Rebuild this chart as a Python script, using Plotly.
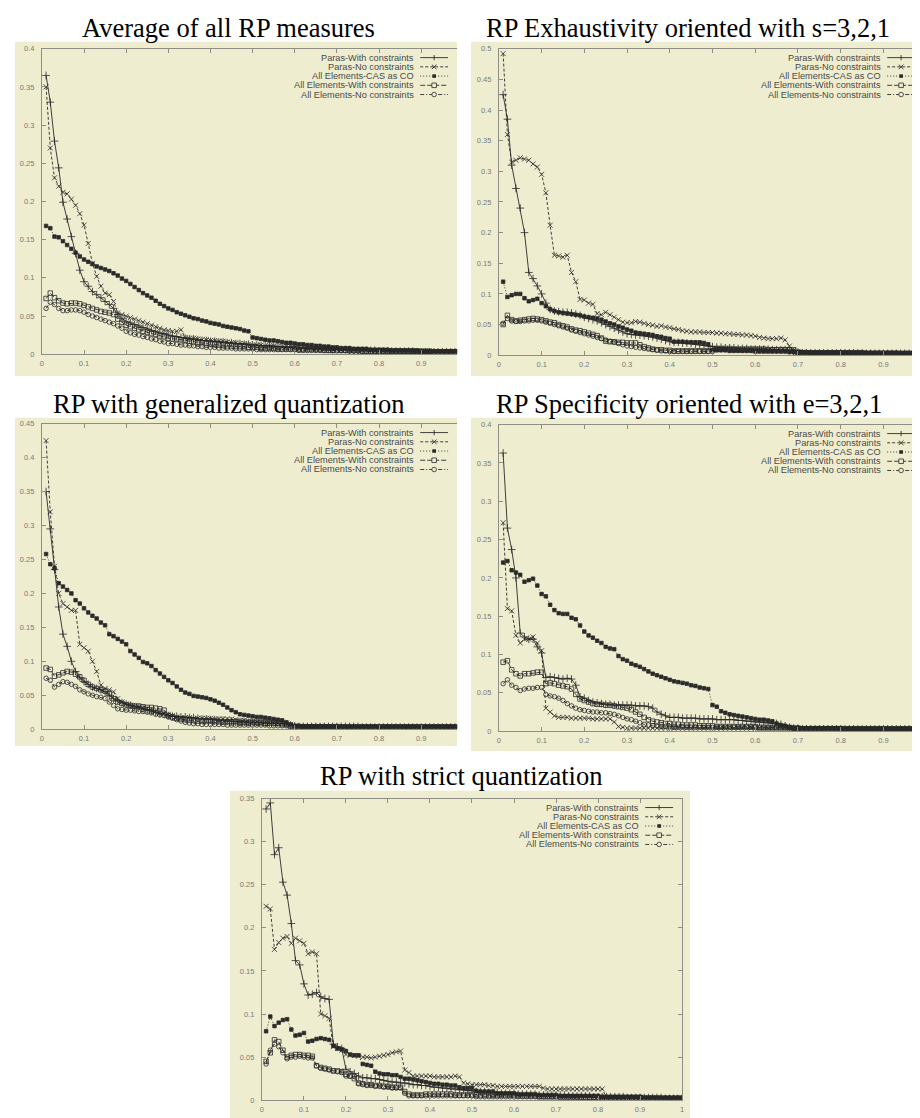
import plotly.graph_objects as go

# ---------------- data ----------------
RECALL = [round(0.01 * i, 2) for i in range(1, 101)]

SERIES_NAMES = [
    "Paras-With constraints",
    "Paras-No constraints",
    "All Elements-CAS as CO",
    "All Elements-With constraints",
    "All Elements-No constraints",
]

PANEL_TITLES = [
    "Average of all RP measures",
    "RP Exhaustivity oriented with s=3,2,1",
    "RP with generalized quantization",
    "RP Specificity oriented with e=3,2,1",
    "RP with strict quantization",
]

Y_MAX = [0.4, 0.5, 0.45, 0.4, 0.35]
X_TICKS = [0, 0.1, 0.2, 0.3, 0.4, 0.5, 0.6, 0.7, 0.8, 0.9, 1.0]

# Panel 1: Average of all RP measures
AVG_PARAS_WITH = [
    0.365, 0.330, 0.279, 0.244, 0.199, 0.177, 0.154, 0.132, 0.110, 0.095,
    0.089, 0.082, 0.078, 0.074, 0.069, 0.065, 0.060, 0.052, 0.047, 0.043,
    0.041, 0.039, 0.037, 0.035, 0.033, 0.031, 0.030, 0.028, 0.027, 0.025,
    0.024, 0.023, 0.022, 0.021, 0.020, 0.020, 0.019, 0.018, 0.018, 0.017,
    0.017, 0.016, 0.016, 0.015, 0.015, 0.014, 0.014, 0.013, 0.013, 0.012,
    0.012, 0.011, 0.011, 0.011, 0.010, 0.010, 0.010, 0.009, 0.009, 0.009,
    0.008, 0.008, 0.008, 0.008, 0.007, 0.007, 0.007, 0.007, 0.006, 0.006,
    0.006, 0.006, 0.006, 0.005, 0.005, 0.005, 0.005, 0.005, 0.005, 0.004,
    0.004, 0.004, 0.004, 0.004, 0.004, 0.004, 0.004, 0.004, 0.003, 0.003,
    0.003, 0.003, 0.003, 0.003, 0.003, 0.003, 0.003, 0.003, 0.003, 0.003,
]
AVG_PARAS_NO = [
    0.350, 0.270, 0.231, 0.220, 0.212, 0.210, 0.203, 0.195, 0.184, 0.169,
    0.145, 0.119, 0.102, 0.089, 0.080, 0.078, 0.069, 0.054, 0.052, 0.050,
    0.048, 0.046, 0.044, 0.042, 0.040, 0.038, 0.036, 0.034, 0.032, 0.031,
    0.030, 0.030, 0.032, 0.022, 0.021, 0.021, 0.020, 0.019, 0.019, 0.018,
    0.018, 0.017, 0.017, 0.016, 0.015, 0.015, 0.014, 0.014, 0.013, 0.012,
    0.012, 0.012, 0.011, 0.011, 0.011, 0.010, 0.010, 0.010, 0.010, 0.009,
    0.009, 0.009, 0.008, 0.008, 0.008, 0.007, 0.007, 0.007, 0.006, 0.006,
    0.006, 0.006, 0.005, 0.005, 0.005, 0.005, 0.005, 0.005, 0.004, 0.004,
    0.004, 0.004, 0.004, 0.004, 0.004, 0.004, 0.004, 0.003, 0.003, 0.003,
    0.003, 0.003, 0.003, 0.003, 0.003, 0.003, 0.003, 0.003, 0.003, 0.003,
]
AVG_CAS = [
    0.168, 0.165, 0.154, 0.153, 0.148, 0.143, 0.138, 0.133, 0.128, 0.124,
    0.121, 0.118, 0.115, 0.113, 0.111, 0.109, 0.106, 0.103, 0.099, 0.096,
    0.092, 0.088, 0.084, 0.080, 0.077, 0.074, 0.070, 0.066, 0.063, 0.060,
    0.058, 0.055, 0.053, 0.051, 0.049, 0.047, 0.046, 0.044, 0.043, 0.041,
    0.040, 0.039, 0.037, 0.036, 0.035, 0.034, 0.033, 0.031, 0.030, 0.022,
    0.021, 0.020, 0.019, 0.018, 0.018, 0.017, 0.016, 0.015, 0.015, 0.014,
    0.013, 0.013, 0.012, 0.012, 0.011, 0.011, 0.010, 0.010, 0.009, 0.009,
    0.008, 0.008, 0.008, 0.007, 0.007, 0.007, 0.007, 0.006, 0.006, 0.006,
    0.006, 0.006, 0.005, 0.005, 0.005, 0.005, 0.005, 0.005, 0.005, 0.004,
    0.004, 0.004, 0.004, 0.004, 0.004, 0.004, 0.004, 0.004, 0.004, 0.004,
]
AVG_AE_WITH = [
    0.073, 0.080, 0.074, 0.070, 0.067, 0.066, 0.067, 0.067, 0.066, 0.064,
    0.062, 0.060, 0.058, 0.056, 0.055, 0.054, 0.052, 0.046, 0.042, 0.038,
    0.036, 0.034, 0.032, 0.030, 0.029, 0.027, 0.026, 0.024, 0.023, 0.021,
    0.020, 0.020, 0.019, 0.018, 0.017, 0.016, 0.015, 0.015, 0.014, 0.013,
    0.013, 0.012, 0.012, 0.011, 0.011, 0.010, 0.010, 0.010, 0.009, 0.009,
    0.009, 0.008, 0.008, 0.008, 0.008, 0.007, 0.007, 0.007, 0.007, 0.007,
    0.006, 0.006, 0.006, 0.006, 0.006, 0.006, 0.005, 0.005, 0.005, 0.005,
    0.005, 0.005, 0.005, 0.005, 0.005, 0.004, 0.004, 0.004, 0.004, 0.004,
    0.004, 0.004, 0.004, 0.004, 0.004, 0.004, 0.004, 0.004, 0.004, 0.004,
    0.004, 0.004, 0.003, 0.003, 0.003, 0.003, 0.003, 0.003, 0.003, 0.003,
]
AVG_AE_NO = [
    0.060, 0.068, 0.065, 0.060, 0.057, 0.057, 0.058, 0.058, 0.057, 0.055,
    0.052, 0.050, 0.048, 0.046, 0.044, 0.042, 0.040, 0.037, 0.034, 0.030,
    0.028, 0.026, 0.025, 0.023, 0.022, 0.020, 0.019, 0.017, 0.016, 0.014,
    0.014, 0.013, 0.012, 0.012, 0.011, 0.011, 0.010, 0.010, 0.009, 0.009,
    0.009, 0.008, 0.008, 0.008, 0.008, 0.007, 0.007, 0.007, 0.007, 0.007,
    0.006, 0.006, 0.006, 0.006, 0.006, 0.006, 0.006, 0.006, 0.006, 0.006,
    0.005, 0.005, 0.005, 0.005, 0.005, 0.005, 0.005, 0.005, 0.005, 0.005,
    0.005, 0.005, 0.004, 0.004, 0.004, 0.004, 0.004, 0.004, 0.004, 0.004,
    0.004, 0.004, 0.004, 0.004, 0.004, 0.003, 0.003, 0.003, 0.003, 0.003,
    0.003, 0.003, 0.003, 0.003, 0.003, 0.003, 0.003, 0.003, 0.003, 0.003,
]

# Panel 2: Exhaustivity oriented
EXH_PARAS_WITH = [
    0.425, 0.385, 0.310, 0.272, 0.240, 0.200, 0.135, 0.125, 0.113, 0.100,
    0.085, 0.075, 0.072, 0.071, 0.070, 0.070, 0.069, 0.067, 0.065, 0.062,
    0.060, 0.058, 0.056, 0.053, 0.050, 0.047, 0.044, 0.041, 0.038, 0.035,
    0.034, 0.033, 0.033, 0.032, 0.031, 0.030, 0.028, 0.026, 0.024, 0.022,
    0.021, 0.021, 0.020, 0.020, 0.019, 0.018, 0.017, 0.016, 0.015, 0.014,
    0.013, 0.013, 0.012, 0.012, 0.012, 0.011, 0.011, 0.011, 0.010, 0.010,
    0.010, 0.010, 0.010, 0.009, 0.009, 0.009, 0.009, 0.008, 0.006, 0.005,
    0.004, 0.004, 0.004, 0.004, 0.004, 0.004, 0.004, 0.004, 0.004, 0.004,
    0.004, 0.004, 0.004, 0.004, 0.004, 0.003, 0.003, 0.003, 0.003, 0.003,
    0.003, 0.003, 0.003, 0.003, 0.003, 0.003, 0.003, 0.003, 0.003, 0.003,
]
EXH_PARAS_NO = [
    0.492, 0.360, 0.315, 0.318, 0.322, 0.320, 0.318, 0.312, 0.307, 0.295,
    0.265, 0.212, 0.163, 0.162, 0.160, 0.163, 0.135, 0.120, 0.091, 0.090,
    0.085, 0.083, 0.068, 0.066, 0.070, 0.066, 0.062, 0.058, 0.054, 0.053,
    0.053, 0.055, 0.054, 0.052, 0.050, 0.049, 0.047, 0.048, 0.046, 0.045,
    0.043, 0.042, 0.040, 0.039, 0.038, 0.038, 0.038, 0.037, 0.037, 0.037,
    0.036, 0.036, 0.035, 0.035, 0.034, 0.034, 0.033, 0.033, 0.032, 0.031,
    0.029, 0.028, 0.027, 0.027, 0.027, 0.028, 0.025, 0.015, 0.008, 0.005,
    0.005, 0.004, 0.004, 0.004, 0.004, 0.004, 0.004, 0.004, 0.004, 0.004,
    0.004, 0.004, 0.004, 0.004, 0.003, 0.003, 0.003, 0.003, 0.003, 0.003,
    0.003, 0.003, 0.003, 0.003, 0.003, 0.003, 0.003, 0.003, 0.003, 0.003,
]
EXH_CAS = [
    0.120, 0.095, 0.098, 0.100, 0.100, 0.093, 0.088, 0.090, 0.092, 0.085,
    0.080, 0.075, 0.072, 0.070, 0.069, 0.068, 0.067, 0.066, 0.065, 0.063,
    0.062, 0.061, 0.060, 0.058, 0.055, 0.052, 0.050, 0.047, 0.045, 0.042,
    0.040, 0.037, 0.036, 0.035, 0.034, 0.033, 0.031, 0.030, 0.028, 0.027,
    0.022, 0.022, 0.022, 0.021, 0.021, 0.021, 0.021, 0.020, 0.018, 0.008,
    0.008, 0.008, 0.008, 0.007, 0.007, 0.007, 0.007, 0.007, 0.007, 0.006,
    0.006, 0.006, 0.006, 0.006, 0.006, 0.006, 0.006, 0.005, 0.005, 0.005,
    0.005, 0.005, 0.004, 0.004, 0.004, 0.004, 0.004, 0.004, 0.004, 0.004,
    0.004, 0.004, 0.004, 0.004, 0.004, 0.004, 0.004, 0.004, 0.004, 0.004,
    0.004, 0.004, 0.004, 0.003, 0.003, 0.003, 0.003, 0.003, 0.003, 0.003,
]
EXH_AE_WITH = [
    0.050, 0.065, 0.058, 0.056, 0.057, 0.058, 0.059, 0.060, 0.059, 0.058,
    0.056, 0.054, 0.053, 0.050, 0.048, 0.046, 0.043, 0.041, 0.040, 0.038,
    0.036, 0.034, 0.032, 0.028, 0.023, 0.022, 0.022, 0.021, 0.021, 0.020,
    0.020, 0.020, 0.017, 0.014, 0.012, 0.010, 0.009, 0.009, 0.008, 0.008,
    0.007, 0.007, 0.007, 0.007, 0.007, 0.007, 0.007, 0.007, 0.007, 0.011,
    0.011, 0.011, 0.011, 0.011, 0.010, 0.010, 0.010, 0.010, 0.010, 0.010,
    0.010, 0.010, 0.009, 0.009, 0.009, 0.009, 0.009, 0.009, 0.009, 0.005,
    0.004, 0.004, 0.004, 0.004, 0.004, 0.004, 0.004, 0.004, 0.004, 0.004,
    0.004, 0.004, 0.004, 0.004, 0.004, 0.003, 0.003, 0.003, 0.003, 0.003,
    0.003, 0.003, 0.003, 0.003, 0.003, 0.003, 0.003, 0.003, 0.003, 0.003,
]
EXH_AE_NO = [
    0.052, 0.060, 0.056, 0.055, 0.055, 0.056, 0.056, 0.057, 0.057, 0.056,
    0.054, 0.052, 0.050, 0.048, 0.046, 0.044, 0.041, 0.039, 0.037, 0.035,
    0.033, 0.031, 0.029, 0.027, 0.025, 0.023, 0.021, 0.019, 0.017, 0.015,
    0.014, 0.013, 0.012, 0.011, 0.010, 0.009, 0.008, 0.007, 0.007, 0.006,
    0.006, 0.006, 0.006, 0.006, 0.006, 0.006, 0.006, 0.006, 0.006, 0.006,
    0.009, 0.009, 0.009, 0.009, 0.009, 0.009, 0.009, 0.009, 0.009, 0.009,
    0.009, 0.009, 0.009, 0.009, 0.009, 0.009, 0.009, 0.009, 0.006, 0.004,
    0.004, 0.004, 0.004, 0.004, 0.004, 0.004, 0.004, 0.004, 0.004, 0.004,
    0.003, 0.003, 0.003, 0.003, 0.003, 0.003, 0.003, 0.003, 0.003, 0.003,
    0.003, 0.003, 0.003, 0.003, 0.003, 0.003, 0.003, 0.003, 0.003, 0.003,
]

# Panel 3: generalized quantization
GEN_PARAS_WITH = [
    0.350, 0.295, 0.235, 0.180, 0.140, 0.122, 0.100, 0.085, 0.076, 0.070,
    0.066, 0.062, 0.060, 0.058, 0.055, 0.050, 0.045, 0.042, 0.039, 0.037,
    0.035, 0.033, 0.032, 0.030, 0.028, 0.027, 0.025, 0.023, 0.022, 0.020,
    0.019, 0.019, 0.018, 0.018, 0.017, 0.017, 0.016, 0.015, 0.015, 0.014,
    0.014, 0.013, 0.013, 0.012, 0.012, 0.011, 0.011, 0.011, 0.010, 0.010,
    0.010, 0.010, 0.009, 0.009, 0.009, 0.009, 0.008, 0.008, 0.006, 0.005,
    0.004, 0.004, 0.004, 0.004, 0.004, 0.004, 0.004, 0.004, 0.004, 0.004,
    0.004, 0.004, 0.004, 0.004, 0.004, 0.003, 0.003, 0.003, 0.003, 0.003,
    0.003, 0.003, 0.003, 0.003, 0.003, 0.003, 0.003, 0.003, 0.003, 0.003,
    0.003, 0.003, 0.003, 0.003, 0.003, 0.003, 0.003, 0.003, 0.003, 0.003,
]
GEN_PARAS_NO = [
    0.425, 0.320, 0.240, 0.200, 0.185, 0.180, 0.175, 0.175, 0.125, 0.120,
    0.115, 0.100, 0.085, 0.065, 0.060, 0.058, 0.055, 0.045, 0.040, 0.037,
    0.035, 0.034, 0.033, 0.031, 0.030, 0.028, 0.026, 0.025, 0.023, 0.022,
    0.020, 0.018, 0.017, 0.017, 0.017, 0.016, 0.016, 0.016, 0.016, 0.016,
    0.015, 0.015, 0.015, 0.015, 0.015, 0.014, 0.013, 0.013, 0.012, 0.012,
    0.011, 0.011, 0.011, 0.010, 0.010, 0.010, 0.010, 0.009, 0.007, 0.005,
    0.004, 0.004, 0.004, 0.004, 0.004, 0.004, 0.004, 0.004, 0.004, 0.004,
    0.003, 0.003, 0.003, 0.003, 0.003, 0.003, 0.003, 0.003, 0.003, 0.003,
    0.003, 0.003, 0.003, 0.003, 0.003, 0.003, 0.003, 0.003, 0.003, 0.003,
    0.003, 0.003, 0.003, 0.003, 0.003, 0.003, 0.003, 0.003, 0.003, 0.003,
]
GEN_CAS = [
    0.258, 0.243, 0.237, 0.215, 0.210, 0.205, 0.200, 0.190, 0.185, 0.178,
    0.172, 0.167, 0.163, 0.157, 0.153, 0.140, 0.137, 0.133, 0.129, 0.125,
    0.115, 0.110, 0.105, 0.099, 0.097, 0.093, 0.087, 0.082, 0.077, 0.072,
    0.068, 0.063, 0.058, 0.054, 0.052, 0.049, 0.048, 0.047, 0.046, 0.044,
    0.042, 0.039, 0.036, 0.032, 0.028, 0.025, 0.022, 0.021, 0.020, 0.019,
    0.018, 0.018, 0.017, 0.016, 0.015, 0.014, 0.013, 0.010, 0.007, 0.005,
    0.005, 0.004, 0.004, 0.004, 0.004, 0.004, 0.004, 0.004, 0.004, 0.004,
    0.004, 0.004, 0.004, 0.004, 0.004, 0.004, 0.004, 0.004, 0.004, 0.004,
    0.004, 0.004, 0.004, 0.004, 0.004, 0.004, 0.004, 0.004, 0.004, 0.004,
    0.004, 0.004, 0.004, 0.004, 0.004, 0.004, 0.004, 0.004, 0.004, 0.004,
]
GEN_AE_WITH = [
    0.090, 0.088, 0.078, 0.080, 0.083, 0.085, 0.084, 0.081, 0.077, 0.072,
    0.066, 0.062, 0.060, 0.058, 0.056, 0.052, 0.045, 0.040, 0.038, 0.036,
    0.035, 0.034, 0.034, 0.033, 0.032, 0.032, 0.031, 0.030, 0.028, 0.020,
    0.018, 0.016, 0.015, 0.014, 0.013, 0.013, 0.012, 0.012, 0.012, 0.012,
    0.012, 0.011, 0.011, 0.011, 0.011, 0.011, 0.010, 0.010, 0.010, 0.010,
    0.010, 0.010, 0.009, 0.009, 0.009, 0.009, 0.008, 0.007, 0.004, 0.003,
    0.003, 0.003, 0.003, 0.003, 0.003, 0.003, 0.003, 0.003, 0.003, 0.003,
    0.003, 0.003, 0.003, 0.003, 0.003, 0.003, 0.003, 0.003, 0.003, 0.003,
    0.003, 0.003, 0.003, 0.003, 0.003, 0.003, 0.003, 0.003, 0.003, 0.003,
    0.003, 0.003, 0.003, 0.003, 0.003, 0.003, 0.003, 0.003, 0.003, 0.003,
]
GEN_AE_NO = [
    0.075, 0.072, 0.062, 0.066, 0.070, 0.069, 0.066, 0.063, 0.058, 0.055,
    0.052, 0.050, 0.048, 0.047, 0.045, 0.040, 0.035, 0.030, 0.029, 0.028,
    0.028, 0.027, 0.026, 0.026, 0.025, 0.024, 0.022, 0.021, 0.020, 0.018,
    0.016, 0.014, 0.012, 0.010, 0.009, 0.008, 0.008, 0.007, 0.007, 0.007,
    0.007, 0.007, 0.007, 0.006, 0.006, 0.006, 0.006, 0.006, 0.006, 0.006,
    0.006, 0.006, 0.006, 0.005, 0.005, 0.005, 0.005, 0.005, 0.005, 0.004,
    0.004, 0.004, 0.004, 0.004, 0.004, 0.004, 0.004, 0.004, 0.004, 0.004,
    0.003, 0.003, 0.003, 0.003, 0.003, 0.003, 0.003, 0.003, 0.003, 0.003,
    0.003, 0.003, 0.003, 0.003, 0.003, 0.003, 0.003, 0.003, 0.003, 0.003,
    0.003, 0.003, 0.003, 0.003, 0.003, 0.003, 0.003, 0.003, 0.003, 0.003,
]

# Panel 4: Specificity oriented
SPE_PARAS_WITH = [
    0.363, 0.265, 0.237, 0.200, 0.128, 0.123, 0.120, 0.120, 0.110, 0.102,
    0.070, 0.071, 0.070, 0.069, 0.068, 0.069, 0.068, 0.060, 0.045, 0.043,
    0.040, 0.038, 0.037, 0.036, 0.035, 0.035, 0.034, 0.034, 0.034, 0.034,
    0.034, 0.033, 0.033, 0.033, 0.032, 0.030, 0.025, 0.022, 0.020, 0.018,
    0.018, 0.018, 0.017, 0.017, 0.017, 0.017, 0.016, 0.016, 0.016, 0.016,
    0.015, 0.015, 0.015, 0.015, 0.015, 0.014, 0.014, 0.013, 0.013, 0.012,
    0.012, 0.011, 0.011, 0.010, 0.010, 0.009, 0.007, 0.005, 0.004, 0.004,
    0.003, 0.003, 0.003, 0.003, 0.003, 0.003, 0.003, 0.003, 0.003, 0.003,
    0.003, 0.003, 0.003, 0.003, 0.003, 0.003, 0.003, 0.003, 0.003, 0.003,
    0.003, 0.003, 0.003, 0.003, 0.003, 0.003, 0.003, 0.003, 0.003, 0.003,
]
SPE_PARAS_NO = [
    0.272, 0.160, 0.157, 0.125, 0.115, 0.120, 0.120, 0.123, 0.115, 0.105,
    0.030, 0.025, 0.020, 0.018, 0.018, 0.018, 0.017, 0.017, 0.017, 0.017,
    0.017, 0.016, 0.016, 0.016, 0.016, 0.016, 0.012, 0.006, 0.005, 0.004,
    0.004, 0.004, 0.004, 0.004, 0.004, 0.004, 0.004, 0.004, 0.004, 0.004,
    0.004, 0.004, 0.004, 0.004, 0.004, 0.004, 0.004, 0.004, 0.004, 0.004,
    0.004, 0.004, 0.004, 0.004, 0.004, 0.004, 0.004, 0.004, 0.004, 0.004,
    0.004, 0.004, 0.004, 0.004, 0.004, 0.004, 0.004, 0.004, 0.003, 0.003,
    0.003, 0.003, 0.003, 0.003, 0.003, 0.003, 0.003, 0.003, 0.003, 0.003,
    0.003, 0.003, 0.003, 0.003, 0.003, 0.003, 0.003, 0.003, 0.003, 0.003,
    0.003, 0.003, 0.003, 0.003, 0.003, 0.003, 0.003, 0.003, 0.003, 0.003,
]
SPE_CAS = [
    0.220, 0.222, 0.210, 0.207, 0.204, 0.195, 0.197, 0.199, 0.190, 0.179,
    0.176, 0.165, 0.158, 0.154, 0.153, 0.153, 0.148, 0.146, 0.138, 0.130,
    0.125, 0.122, 0.118, 0.115, 0.110, 0.108, 0.107, 0.098, 0.094, 0.092,
    0.088, 0.086, 0.084, 0.081, 0.078, 0.075, 0.073, 0.071, 0.069, 0.067,
    0.065, 0.064, 0.063, 0.062, 0.060, 0.059, 0.057, 0.056, 0.055, 0.034,
    0.032, 0.026, 0.024, 0.022, 0.021, 0.020, 0.019, 0.018, 0.017, 0.016,
    0.015, 0.015, 0.014, 0.013, 0.010, 0.008, 0.007, 0.005, 0.004, 0.004,
    0.004, 0.004, 0.004, 0.004, 0.004, 0.004, 0.004, 0.004, 0.004, 0.004,
    0.003, 0.003, 0.003, 0.003, 0.003, 0.003, 0.003, 0.003, 0.003, 0.003,
    0.003, 0.003, 0.003, 0.003, 0.003, 0.003, 0.003, 0.003, 0.003, 0.003,
]
SPE_AE_WITH = [
    0.090, 0.092, 0.080, 0.075, 0.072, 0.075, 0.075, 0.076, 0.077, 0.077,
    0.062, 0.063, 0.062, 0.060, 0.059, 0.058, 0.055, 0.048, 0.042, 0.040,
    0.038, 0.036, 0.035, 0.035, 0.034, 0.034, 0.033, 0.032, 0.031, 0.030,
    0.028, 0.025, 0.022, 0.018, 0.015, 0.013, 0.012, 0.011, 0.010, 0.010,
    0.009, 0.009, 0.008, 0.008, 0.008, 0.008, 0.007, 0.007, 0.007, 0.007,
    0.006, 0.006, 0.006, 0.006, 0.006, 0.006, 0.006, 0.006, 0.006, 0.006,
    0.005, 0.005, 0.005, 0.005, 0.005, 0.005, 0.005, 0.005, 0.004, 0.004,
    0.003, 0.003, 0.003, 0.003, 0.003, 0.003, 0.003, 0.003, 0.003, 0.003,
    0.003, 0.003, 0.003, 0.003, 0.003, 0.003, 0.003, 0.003, 0.003, 0.003,
    0.003, 0.003, 0.003, 0.003, 0.003, 0.003, 0.003, 0.003, 0.003, 0.003,
]
SPE_AE_NO = [
    0.062, 0.067, 0.060, 0.057, 0.053, 0.055, 0.056, 0.056, 0.057, 0.057,
    0.048, 0.046, 0.045, 0.043, 0.040, 0.036, 0.033, 0.030, 0.028, 0.027,
    0.026, 0.025, 0.025, 0.024, 0.024, 0.023, 0.022, 0.020, 0.018, 0.016,
    0.015, 0.013, 0.011, 0.009, 0.008, 0.007, 0.007, 0.006, 0.006, 0.006,
    0.005, 0.005, 0.005, 0.005, 0.005, 0.005, 0.005, 0.005, 0.005, 0.005,
    0.005, 0.005, 0.005, 0.005, 0.005, 0.005, 0.005, 0.005, 0.005, 0.005,
    0.004, 0.004, 0.004, 0.004, 0.004, 0.004, 0.004, 0.004, 0.004, 0.004,
    0.003, 0.003, 0.003, 0.003, 0.003, 0.003, 0.003, 0.003, 0.003, 0.003,
    0.003, 0.003, 0.003, 0.003, 0.003, 0.003, 0.003, 0.003, 0.003, 0.003,
    0.003, 0.003, 0.003, 0.003, 0.003, 0.003, 0.003, 0.003, 0.003, 0.003,
]

# Panel 5: strict quantization
STR_PARAS_WITH = [
    0.338, 0.345, 0.285, 0.293, 0.253, 0.238, 0.205, 0.162, 0.157, 0.135,
    0.122, 0.123, 0.125, 0.120, 0.118, 0.117, 0.065, 0.062, 0.060, 0.036,
    0.033, 0.031, 0.028, 0.026, 0.026, 0.025, 0.025, 0.024, 0.023, 0.022,
    0.021, 0.021, 0.020, 0.020, 0.019, 0.018, 0.018, 0.017, 0.017, 0.016,
    0.015, 0.015, 0.014, 0.014, 0.013, 0.013, 0.012, 0.012, 0.011, 0.011,
    0.010, 0.010, 0.010, 0.009, 0.009, 0.009, 0.008, 0.008, 0.008, 0.008,
    0.007, 0.007, 0.007, 0.007, 0.007, 0.006, 0.006, 0.006, 0.006, 0.006,
    0.006, 0.006, 0.005, 0.005, 0.005, 0.005, 0.005, 0.005, 0.004, 0.004,
    0.004, 0.004, 0.004, 0.004, 0.004, 0.004, 0.003, 0.003, 0.003, 0.003,
    0.003, 0.003, 0.003, 0.003, 0.003, 0.002, 0.002, 0.002, 0.002, 0.002,
]
STR_PARAS_NO = [
    0.225, 0.222, 0.175, 0.183, 0.188, 0.190, 0.182, 0.188, 0.185, 0.182,
    0.170, 0.172, 0.170, 0.100, 0.098, 0.095, 0.062, 0.060, 0.058, 0.053,
    0.052, 0.052, 0.051, 0.050, 0.050, 0.049, 0.050, 0.051, 0.052, 0.053,
    0.055, 0.056, 0.057, 0.035, 0.032, 0.028, 0.028, 0.028, 0.028, 0.028,
    0.027, 0.027, 0.027, 0.027, 0.027, 0.028, 0.027, 0.020, 0.019, 0.018,
    0.018, 0.018, 0.018, 0.017, 0.017, 0.016, 0.016, 0.016, 0.016, 0.016,
    0.016, 0.016, 0.016, 0.016, 0.016, 0.016, 0.014, 0.013, 0.013, 0.013,
    0.013, 0.013, 0.013, 0.013, 0.013, 0.013, 0.013, 0.013, 0.013, 0.013,
    0.013, 0.003, 0.003, 0.003, 0.003, 0.003, 0.003, 0.003, 0.003, 0.003,
    0.003, 0.003, 0.003, 0.003, 0.002, 0.002, 0.002, 0.002, 0.002, 0.002,
]
STR_CAS = [
    0.080, 0.097, 0.086, 0.090, 0.093, 0.094, 0.082, 0.075, 0.076, 0.078,
    0.068, 0.069, 0.071, 0.072, 0.071, 0.070, 0.063, 0.060, 0.059, 0.057,
    0.053, 0.052, 0.052, 0.042, 0.041, 0.040, 0.033, 0.031, 0.030, 0.030,
    0.029, 0.029, 0.027, 0.025, 0.025, 0.024, 0.023, 0.022, 0.021, 0.020,
    0.019, 0.019, 0.018, 0.018, 0.017, 0.017, 0.015, 0.014, 0.014, 0.014,
    0.011, 0.010, 0.010, 0.010, 0.010, 0.008, 0.008, 0.008, 0.008, 0.008,
    0.007, 0.007, 0.007, 0.007, 0.007, 0.006, 0.006, 0.006, 0.006, 0.006,
    0.005, 0.005, 0.005, 0.005, 0.005, 0.005, 0.005, 0.005, 0.005, 0.005,
    0.004, 0.004, 0.004, 0.004, 0.004, 0.004, 0.004, 0.004, 0.004, 0.004,
    0.003, 0.003, 0.003, 0.003, 0.003, 0.003, 0.003, 0.003, 0.003, 0.003,
]
STR_AE_WITH = [
    0.045, 0.055, 0.070, 0.068, 0.058, 0.050, 0.052, 0.053, 0.053, 0.052,
    0.052, 0.051, 0.040, 0.038, 0.037, 0.036, 0.034, 0.034, 0.033, 0.030,
    0.028, 0.025, 0.020, 0.019, 0.018, 0.018, 0.017, 0.017, 0.016, 0.016,
    0.015, 0.015, 0.015, 0.010, 0.007, 0.006, 0.006, 0.006, 0.007, 0.007,
    0.007, 0.007, 0.007, 0.007, 0.007, 0.006, 0.006, 0.006, 0.006, 0.006,
    0.006, 0.006, 0.006, 0.006, 0.006, 0.006, 0.006, 0.006, 0.006, 0.006,
    0.005, 0.005, 0.005, 0.005, 0.005, 0.004, 0.004, 0.004, 0.004, 0.004,
    0.004, 0.004, 0.004, 0.004, 0.004, 0.003, 0.003, 0.003, 0.003, 0.003,
    0.003, 0.003, 0.003, 0.003, 0.003, 0.003, 0.003, 0.003, 0.003, 0.003,
    0.002, 0.002, 0.002, 0.002, 0.002, 0.002, 0.002, 0.002, 0.002, 0.002,
]
STR_AE_NO = [
    0.042, 0.058, 0.065, 0.062, 0.055, 0.048, 0.050, 0.050, 0.051, 0.050,
    0.049, 0.049, 0.040, 0.037, 0.036, 0.035, 0.034, 0.033, 0.032, 0.028,
    0.028, 0.028, 0.019, 0.018, 0.017, 0.017, 0.016, 0.016, 0.015, 0.015,
    0.014, 0.014, 0.014, 0.008, 0.005, 0.005, 0.005, 0.005, 0.005, 0.005,
    0.005, 0.005, 0.005, 0.005, 0.005, 0.005, 0.005, 0.005, 0.005, 0.005,
    0.004, 0.004, 0.004, 0.004, 0.004, 0.004, 0.004, 0.004, 0.004, 0.004,
    0.004, 0.004, 0.004, 0.004, 0.004, 0.004, 0.004, 0.004, 0.004, 0.004,
    0.003, 0.003, 0.003, 0.003, 0.003, 0.003, 0.003, 0.003, 0.003, 0.003,
    0.002, 0.002, 0.002, 0.002, 0.002, 0.002, 0.002, 0.002, 0.002, 0.002,
    0.002, 0.002, 0.002, 0.002, 0.002, 0.002, 0.002, 0.002, 0.002, 0.002,
]

PANEL_SERIES = [
    [AVG_PARAS_WITH, AVG_PARAS_NO, AVG_CAS, AVG_AE_WITH, AVG_AE_NO],
    [EXH_PARAS_WITH, EXH_PARAS_NO, EXH_CAS, EXH_AE_WITH, EXH_AE_NO],
    [GEN_PARAS_WITH, GEN_PARAS_NO, GEN_CAS, GEN_AE_WITH, GEN_AE_NO],
    [SPE_PARAS_WITH, SPE_PARAS_NO, SPE_CAS, SPE_AE_WITH, SPE_AE_NO],
    [STR_PARAS_WITH, STR_PARAS_NO, STR_CAS, STR_AE_WITH, STR_AE_NO],
]

# ---------------- layout / style ----------------
W, H = 920, 1118
BEIGE = "#EFEDD0"
INK = "#2a2a2a"
AXIS_GRAY = "#8e8e86"
TICK_FONT = dict(family="Liberation Sans, Arial, sans-serif", size=7.5, color="#7a7a7a")
LEG_FONT = dict(family="Liberation Sans, Arial, sans-serif", size=9.2, color="#4a4a4a")
TITLE_FONT = dict(family="Liberation Serif, Times New Roman, serif", size=26.5, color="#000000")

# pixel geometry: plot area (x0, x1, ytop, ybottom), background box, x range end, title centre
GEOM = [
    dict(plot=(32, 449, 37, 345), bg=(5, 449, 30, 367), xmax=0.985, title=(219.5, 16), closed=False),
    dict(plot=(491, 918, 37, 346), bg=(463, 918, 30, 367), xmax=0.995, title=(681, 16), closed=False),
    dict(plot=(32, 449, 415, 723), bg=(5, 449, 409, 740), xmax=0.985, title=(220, 395), closed=False),
    dict(plot=(491, 918, 416, 725), bg=(463, 918, 409, 745), xmax=0.995, title=(682, 395), closed=False),
    dict(plot=(253, 675, 793, 1097), bg=(221, 683, 785, 1118), xmax=1.0, title=(453, 770), closed=True),
]

DASHES = ["solid", "3px,2px", "1px,2px", "5px,2px", "4px,2px,1px,2px"]
SYMBOLS = ["cross-thin-open", "x-thin-open", "square", "square-open", "circle-open"]
SIZES = [5.5, 5, 3.5, 4.5, 4.5]


def px(x):
    return x / W


def py(y):
    return 1 - y / H


fig = go.Figure()
layout = dict(
    width=W, height=H, margin=dict(l=0, r=0, t=0, b=0),
    paper_bgcolor="white", plot_bgcolor=BEIGE, showlegend=False,
)
shapes = []
annotations = []

extra_axis = 6
for k, (geo, series, title, ymax) in enumerate(zip(GEOM, PANEL_SERIES, PANEL_TITLES, Y_MAX)):
    n = k + 1
    xs = "" if n == 1 else str(n)
    xa, ya = "x" + xs, "y" + xs
    x0, x1, yt, yb = geo["plot"]
    bx0, bx1, by0, by1 = geo["bg"]

    shapes.append(dict(type="rect", xref="paper", yref="paper", x0=px(bx0), x1=px(bx1),
                       y0=py(by1), y1=py(by0), fillcolor=BEIGE, line=dict(width=0), layer="below"))

    for s in range(5):
        fig.add_trace(go.Scatter(
            x=RECALL, y=series[s], mode="lines+markers", name=SERIES_NAMES[s],
            xaxis=xa, yaxis=ya,
            line=dict(color=INK, width=0.9, dash=DASHES[s]),
            marker=dict(symbol=SYMBOLS[s], size=SIZES[s], color=INK,
                        line=dict(width=0.8, color=INK)),
            showlegend=False, hoverinfo="x+y+name",
        ))

    common = dict(showgrid=False, zeroline=False, ticks="inside", ticklen=4,
                  tickcolor=AXIS_GRAY, tickwidth=1, tickfont=TICK_FONT,
                  linecolor=AXIS_GRAY, linewidth=1, showline=True)
    layout["xaxis" + xs] = dict(common, domain=[px(x0), px(x1)], anchor=ya,
                                range=[0, geo["xmax"]], tickvals=X_TICKS, mirror="ticks",
                                ticklabelstandoff=2)
    layout["yaxis" + xs] = dict(common, domain=[py(yb), py(yt)], anchor=xa,
                                range=[0, ymax], dtick=0.05, tick0=0,
                                mirror="ticks" if geo["closed"] else False,
                                ticklabelstandoff=5)
    if not geo["closed"]:
        # tick marks on the right edge without a border line
        layout["yaxis" + str(extra_axis)] = dict(
            overlaying=ya, anchor=xa, side="right", range=[0, ymax], dtick=0.05, tick0=0,
            ticks="inside", ticklen=4, tickcolor=AXIS_GRAY, showticklabels=False,
            showline=False, showgrid=False, zeroline=False)
        extra_axis += 1

    # title
    annotations.append(dict(text=title, xref="paper", yref="paper", x=px(geo["title"][0]),
                            y=py(geo["title"][1]), xanchor="center", yanchor="middle",
                            showarrow=False, font=TITLE_FONT))

    # legend (text right-aligned, key to the right)
    text_right = x1 - 41
    kx0, kx1 = x1 - 37, x1 - 9
    kc = (kx0 + kx1) / 2
    for s in range(5):
        ry = yt + 9 + 9.3 * s
        annotations.append(dict(text=SERIES_NAMES[s], xref="paper", yref="paper",
                                x=px(text_right), y=py(ry), xanchor="right", yanchor="middle",
                                showarrow=False, font=LEG_FONT))
        shapes.append(dict(type="line", xref="paper", yref="paper", x0=px(kx0), x1=px(kx1),
                           y0=py(ry), y1=py(ry), line=dict(color=INK, width=0.9, dash=DASHES[s])))
        if s == 0:
            shapes.append(dict(type="line", xref="paper", yref="paper", x0=px(kc), x1=px(kc),
                               y0=py(ry - 2.6), y1=py(ry + 2.6), line=dict(color=INK, width=0.9)))
        elif s == 1:
            for a, b in ((-2.3, 2.3), (2.3, -2.3)):
                shapes.append(dict(type="line", xref="paper", yref="paper",
                                   x0=px(kc - 2.3), x1=px(kc + 2.3), y0=py(ry + a), y1=py(ry + b),
                                   line=dict(color=INK, width=0.9)))
        elif s == 2:
            shapes.append(dict(type="rect", xref="paper", yref="paper", x0=px(kc - 1.8),
                               x1=px(kc + 1.8), y0=py(ry + 1.8), y1=py(ry - 1.8),
                               fillcolor=INK, line=dict(width=0)))
        elif s == 3:
            shapes.append(dict(type="rect", xref="paper", yref="paper", x0=px(kc - 2.3),
                               x1=px(kc + 2.3), y0=py(ry + 2.3), y1=py(ry - 2.3),
                               fillcolor=BEIGE, line=dict(color=INK, width=0.8)))
        else:
            shapes.append(dict(type="circle", xref="paper", yref="paper", x0=px(kc - 2.3),
                               x1=px(kc + 2.3), y0=py(ry + 2.3), y1=py(ry - 2.3),
                               fillcolor=BEIGE, line=dict(color=INK, width=0.8)))

layout["shapes"] = shapes
layout["annotations"] = annotations
fig.update_layout(**layout)
fig.write_html("out.html")
